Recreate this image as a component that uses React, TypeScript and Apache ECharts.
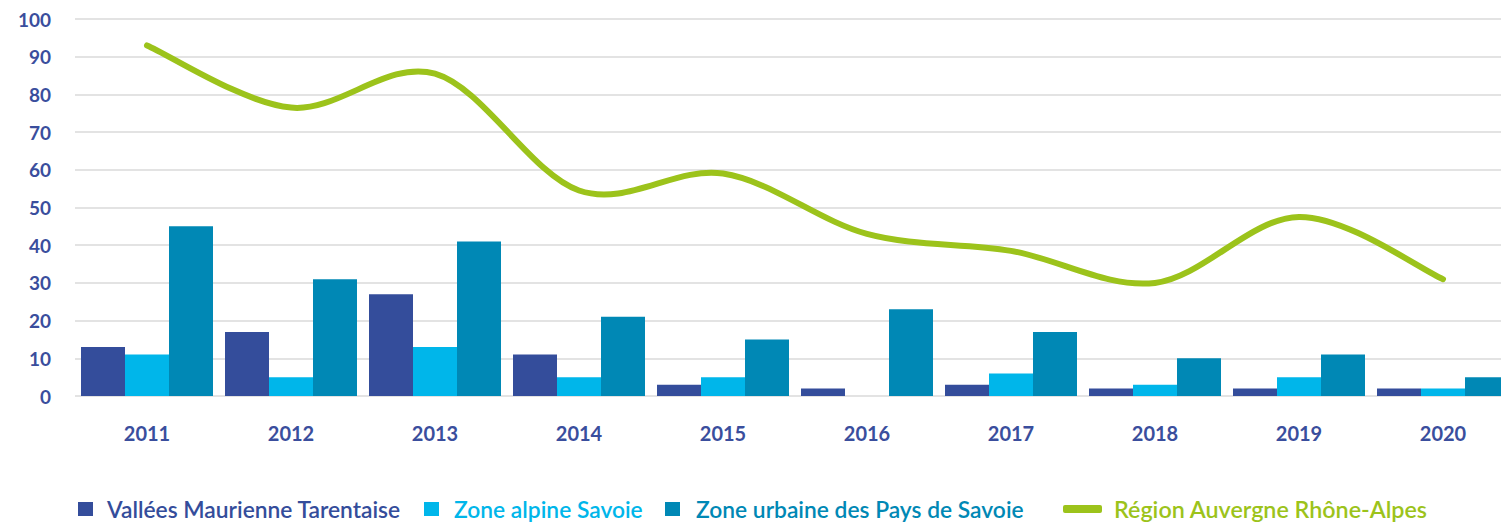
import React, { useEffect, useRef } from "react";
import * as echarts from "echarts";

const years = ["2011", "2012", "2013", "2014", "2015", "2016", "2017", "2018", "2019", "2020"];
const vallees = [13, 17, 27, 11, 3, 2, 3, 2, 2, 2];
const zoneAlpine = [11, 5, 13, 5, 5, 0, 6, 3, 5, 2];
const zoneUrbaine = [45, 31, 41, 21, 15, 23, 17, 10, 11, 5];
const region = [93, 76.5, 85.5, 54.5, 59, 43, 38.5, 30, 47.5, 31];

const names = [
  "Vallées Maurienne Tarentaise",
  "Zone alpine Savoie",
  "Zone urbaine des Pays de Savoie",
  "Région Auvergne Rhône-Alpes",
];
const colors = ["#344D9B", "#00B6EA", "#0088B5", "#9CC31B"];
const font = "Lato";

export default function App() {
  const ref = useRef<HTMLDivElement>(null);
  useEffect(() => {
    const chart = echarts.init(ref.current!, null, { renderer: "svg" });
    const legendLefts = [78, 424, 665, 1063];
    const textPads = [9, 10, 11, 7];
    const fontSizes = [22.8, 22.8, 22.8, 23.3];
    const renderLine = (params: any, api: any) => {
      if (params.dataIndex !== 0) return null;
      const n = region.length;
      const pts: number[][] = [];
      for (let i = 0; i < n; i++) pts.push(api.coord([api.value(0, i), api.value(1, i)]));
      let d = `M${pts[0][0]},${pts[0][1]}`;
      for (let i = 0; i < n - 1; i++) {
        const p0 = pts[Math.max(0, i - 1)];
        const p1 = pts[i];
        const p2 = pts[i + 1];
        const p3 = pts[Math.min(n - 1, i + 2)];
        const c1x = p1[0] + (p2[0] - p0[0]) / 6;
        const c1y = p1[1] + (p2[1] - p0[1]) / 6;
        const c2x = p2[0] - (p3[0] - p1[0]) / 6;
        const c2y = p2[1] - (p3[1] - p1[1]) / 6;
        d += ` C${c1x},${c1y} ${c2x},${c2y} ${p2[0]},${p2[1]}`;
      }
      return {
        type: "path",
        shape: { pathData: d },
        style: { stroke: colors[3], lineWidth: 6, fill: "none", lineCap: "round", lineJoin: "round" },
        silent: true,
      };
    };
    chart.setOption({
      animation: false,
      grid: { left: 75, top: 19, right: 0, height: 377 },
      legend: names.map((n, i) => ({
        data: [{ name: n, itemStyle: { color: colors[i] } }],
        left: legendLefts[i],
        top: 496,
        padding: 0,
        icon: i === 3 ? "roundRect" : "rect",
        itemWidth: i === 3 ? 39 : 15,
        itemHeight: i === 3 ? 8 : 14,
        textStyle: {
          color: colors[i],
          fontSize: fontSizes[i],
          lineHeight: 26,
          fontWeight: 600,
          fontFamily: font,
          padding: [0, 0, 0, textPads[i]],
        },
      })),
      xAxis: {
        type: "category",
        data: years,
        axisLine: { show: false },
        axisTick: { show: false },
        axisLabel: { color: "#3A4E9D", fontSize: 20, fontWeight: "bold", fontFamily: font, margin: 27 },
      },
      yAxis: {
        type: "value",
        min: 0,
        max: 100,
        interval: 10,
        axisLine: { show: false },
        axisTick: { show: false },
        splitLine: { lineStyle: { color: "#e3e3e3", width: 2 } },
        axisLabel: { color: "#3A4E9D", fontSize: 19, fontWeight: "bold", fontFamily: font, margin: 24 },
      },
      series: [
        { name: names[0], type: "bar", data: vallees, itemStyle: { color: colors[0] }, barWidth: 44, barGap: "0%" },
        { name: names[1], type: "bar", data: zoneAlpine, itemStyle: { color: colors[1] }, barWidth: 44, barGap: "0%" },
        { name: names[2], type: "bar", data: zoneUrbaine, itemStyle: { color: colors[2] }, barWidth: 44, barGap: "0%" },
        {
          name: names[3],
          type: "custom",
          data: region.map((v, i) => [i, v]),
          encode: { x: 0, y: 1 },
          renderItem: renderLine,
          itemStyle: { color: colors[3] },
          z: 3,
        },
      ],
    });
    return () => chart.dispose();
  }, []);
  return (
    <div style={{ position: "fixed", left: 0, top: 0, width: 1501, height: 523, overflow: "hidden", background: "#fff" }}>
      <div ref={ref} style={{ width: 1515, height: 523 }} />
    </div>
  );
}
